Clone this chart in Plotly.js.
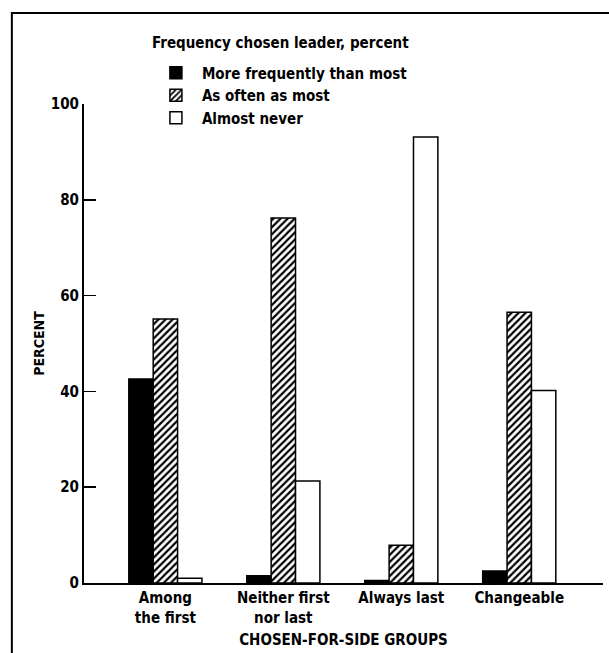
<!DOCTYPE html>
<html>
<head>
<meta charset="utf-8">
<script src="https://cdn.plot.ly/plotly-3.0.1.min.js"></script>
<style>html,body{margin:0;padding:0;background:#fff;}</style>
</head>
<body>
<div id="chart" style="width:609px;height:653px;"></div>
<script>
const categories = ["Among<br>the first", "Neither first<br>nor last", "Always last", "Changeable"];
const seriesNames = ["More frequently than most", "As often as most", "Almost never"];
const moreFrequently = [42.6, 1.5, 0.5, 2.5];
const asOften = [55.1, 76.2, 7.9, 56.5];
const almostNever = [1.0, 21.3, 93.1, 40.2];
const yTicks = [0, 20, 40, 60, 80, 100];
const legendTitle = "Frequency chosen leader, percent";

const FONT = "'DejaVu Sans Condensed', 'Liberation Sans Narrow', sans-serif";
const line = {color: "black", width: 1.5};

const traces = [
  {type: "bar", name: seriesNames[0], x: categories, y: moreFrequently,
   marker: {color: "black", line: line}},
  {type: "bar", name: seriesNames[1], x: categories, y: asOften,
   marker: {color: "white", line: line,
            pattern: {shape: "/", fgcolor: "black", bgcolor: "white", size: 5, solidity: 0.45}}},
  {type: "bar", name: seriesNames[2], x: categories, y: almostNever,
   marker: {color: "white", line: line}}
];

const layout = {
  width: 609, height: 653,
  margin: {l: 84, r: 6, t: 104, b: 70},
  paper_bgcolor: "white", plot_bgcolor: "white",
  font: {family: FONT, size: 15, color: "black", weight: "bold"},
  barmode: "group", bargap: 0.38, bargroupgap: 0,
  showlegend: true,
  legend: {
    x: 0.127, xanchor: "left", y: 1.099, yanchor: "top",
    font: {size: 15, weight: "bold"}, bgcolor: "rgba(0,0,0,0)", traceorder: "normal",
    itemwidth: 42
  },
  annotations: [
    {xref: "paper", yref: "paper", x: 0.127, y: 1.127, xanchor: "left", yanchor: "middle",
     showarrow: false, text: legendTitle, font: {size: 15, weight: "bold"}}
  ],
  xaxis: {
    type: "category", range: [-0.69, 3.71],
    showline: true, linecolor: "black", linewidth: 2,
    ticks: "", showgrid: false, zeroline: false,
    tickfont: {size: 15, weight: "bold"},
    title: {text: "CHOSEN-FOR-SIDE GROUPS", font: {size: 15, weight: "bold"}, standoff: 9}
  },
  yaxis: {
    range: [0, 100], tickvals: yTicks, ticktext: yTicks.map(String),
    ticks: "inside", ticklen: 12, tickwidth: 1.5, tickcolor: "black",
    showline: true, linecolor: "black", linewidth: 2,
    showgrid: false, zeroline: false,
    tickfont: {size: 15, weight: "bold"},
    title: {text: "PERCENT", font: {size: 14, weight: "bold"}, standoff: 3}
  },
  shapes: [
    {type: "rect", xref: "paper", yref: "paper",
     x0: -0.139, x1: 1.05, y0: -0.2, y1: 1.19,
     line: {color: "black", width: 2}, fillcolor: "rgba(0,0,0,0)", layer: "below"}
  ]
};

Plotly.newPlot("chart", traces, layout, {displayModeBar: false, staticPlot: true});
</script>
</body>
</html>
